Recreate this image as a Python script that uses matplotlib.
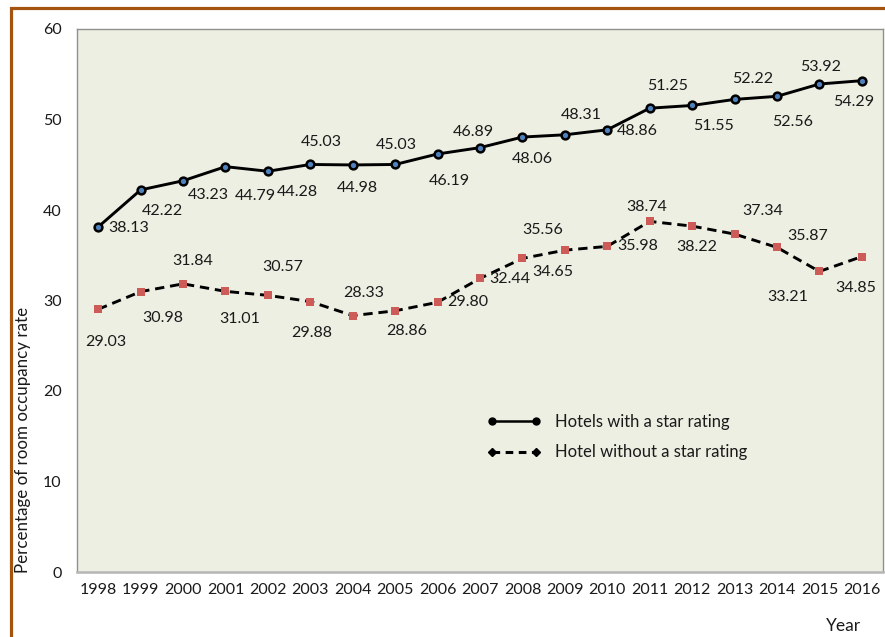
import matplotlib
matplotlib.use("Agg")
import matplotlib.pyplot as plt
from matplotlib.patches import Rectangle
from matplotlib.lines import Line2D

plt.rcParams['font.family'] = ['Lato', 'DejaVu Sans']

years = [str(y) for y in range(1998, 2017)]
star_rated = [38.13, 42.22, 43.23, 44.79, 44.28, 45.03, 44.98, 45.03, 46.19, 46.89,
              48.06, 48.31, 48.86, 51.25, 51.55, 52.22, 52.56, 53.92, 54.29]
no_star = [29.03, 30.98, 31.84, 31.01, 30.57, 29.88, 28.33, 28.86, 29.80, 32.44,
           34.65, 35.56, 35.98, 38.74, 38.22, 37.34, 35.87, 33.21, 34.85]
y_ticks = [0, 10, 20, 30, 40, 50, 60]

# label offsets (pixels, dx right, dy down) relative to each point
star_offsets = [(30, 1), (22, 21), (25, 14), (30, 29), (29, 21), (11, -22), (5, 23),
                (1, -19), (12, 27), (-7, -16), (10, 22), (16, -20), (30, 1), (18, -22),
                (21, 21), (18, -20), (16, 26), (1, -17), (-8, 21)]
nostar_offsets = [(8, 33), (22, 26), (10, -23), (14, 28), (15, -28), (1, 31), (11, -23),
                  (12, 20), (30, 0), (30, 1), (30, 14), (-22, -20), (30, 0), (-3, -14),
                  (5, 21), (28, -23), (31, -11), (-32, 26), (-6, 31)]

W, H, DPI = 885, 637, 100
fig = plt.figure(figsize=(W / DPI, H / DPI), dpi=DPI)
fig.patch.set_facecolor('white')

ax = fig.add_axes([77 / W, 1 - 572 / H, 806 / W, 543 / H])
ax.set_facecolor('#EEEFE3')

x = list(range(len(years)))
ax.plot(x, star_rated, color='black', lw=2.1, marker='o', markersize=5.6,
        markerfacecolor='#4F81BD', markeredgecolor='black', markeredgewidth=1.8,
        zorder=3)
ax.plot(x, no_star, color='black', lw=2.1, linestyle=(0, (3.2, 2.0)), marker='s',
        markersize=6, markerfacecolor='#CD5C58', markeredgecolor='#CD5C58',
        markeredgewidth=0, zorder=3)

txt_color = '#1a1a1a'
fs = 11.5
k = 72 / DPI
for xi, v, (dx, dy) in zip(x, star_rated, star_offsets):
    ax.annotate(f"{v:.2f}", (xi, v), xytext=(dx * k, -dy * k), textcoords='offset points',
                ha='center', va='center', fontsize=fs, color=txt_color)
for xi, v, (dx, dy) in zip(x, no_star, nostar_offsets):
    ax.annotate(f"{v:.2f}", (xi, v), xytext=(dx * k, -dy * k), textcoords='offset points',
                ha='center', va='center', fontsize=fs, color=txt_color)

ax.set_xlim(-0.5, len(years) - 0.5)
ax.set_ylim(0, 60)
ax.set_xticks(x)
ax.set_xticklabels(years)
ax.set_yticks(y_ticks)
ax.tick_params(axis='both', length=0, labelsize=fs, colors=txt_color)
ax.tick_params(axis='y', pad=11)
ax.tick_params(axis='x', pad=8)

for side in ['left', 'top', 'right']:
    ax.spines[side].set_color('#8F8F8F')
    ax.spines[side].set_linewidth(1.0)
ax.spines['bottom'].set_color('#B5B5B5')
ax.spines['bottom'].set_linewidth(1.8)

handles = [
    Line2D([], [], color='black', lw=1.8, marker='o', markersize=5,
           markerfacecolor='black', markeredgecolor='black'),
    Line2D([], [], color='black', lw=2.2, linestyle=(0, (2.5, 1.8)), marker='D',
           markersize=4.5, markerfacecolor='black', markeredgecolor='black'),
]
ax.legend(handles, ['Hotels with a star rating', 'Hotel without a star rating'],
          loc='center left', bbox_to_anchor=(0.5087, 0.248), frameon=False,
          borderpad=0, borderaxespad=0,
          numpoints=2, handlelength=3.25, handletextpad=0.8, labelspacing=0.85,
          fontsize=12, labelcolor=txt_color)

fig.text(22.7 / W, 1 - 440 / H, 'Percentage of room occupancy rate', rotation=90,
         ha='center', va='center', fontsize=12.2, color=txt_color)
fig.text(843 / W, 1 - 626 / H, 'Year', ha='center', va='center', fontsize=12.5,
         color=txt_color)

border = Rectangle((10.5 / W, -0.1), 1.2, 0.1 + 1 - 8.5 / H, transform=fig.transFigure,
                   fill=False, edgecolor='#A4540F', linewidth=2.3, clip_on=False)
fig.patches.append(border)

fig.savefig('out.png', dpi=DPI)
